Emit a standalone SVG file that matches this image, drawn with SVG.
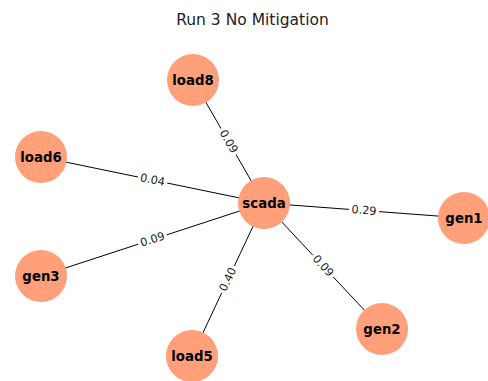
<svg xmlns="http://www.w3.org/2000/svg" width="488" height="381" viewBox="0 0 488 381">
  <style>
    .edge { stroke: #000; stroke-width: 1; }
    .node circle { fill: #FFA07A; }
    .node text { font-family: "DejaVu Sans", sans-serif; font-weight: bold; font-size: 13.3px; fill: #000; text-anchor: middle; dominant-baseline: central; }
    .elabel rect { fill: #fff; }
    .elabel text { font-family: "DejaVu Sans", sans-serif; font-size: 11.2px; fill: #222; text-anchor: middle; dominant-baseline: central; }
    .title { font-family: "DejaVu Sans", sans-serif; font-size: 15.5px; fill: #222; text-anchor: middle; }
  </style>
  <rect width="488" height="381" fill="#fff"/>
  <text class="title" x="252.5" y="25">Run 3 No Mitigation</text>

  <g id="connectors">
    <line class="edge" x1="264" y1="203" x2="193" y2="80"/>
    <line class="edge" x1="264" y1="203" x2="41" y2="157"/>
    <line class="edge" x1="264" y1="203" x2="41" y2="276"/>
    <line class="edge" x1="264" y1="203" x2="192" y2="356"/>
    <line class="edge" x1="264" y1="203" x2="382" y2="329"/>
    <line class="edge" x1="264" y1="203" x2="464" y2="218"/>

    <g class="elabel" transform="translate(228.5,141.5) rotate(60)"><rect x="-15" y="-6.5" width="30" height="13"/><text>0.09</text></g>
    <g class="elabel" transform="translate(152.5,180) rotate(11.7)"><rect x="-15" y="-6.5" width="30" height="13"/><text>0.04</text></g>
    <g class="elabel" transform="translate(152.5,239.5) rotate(-18.1)"><rect x="-15" y="-6.5" width="30" height="13"/><text>0.09</text></g>
    <g class="elabel" transform="translate(228,279.5) rotate(-64.8)"><rect x="-15" y="-6.5" width="30" height="13"/><text>0.40</text></g>
    <g class="elabel" transform="translate(323,266) rotate(46.9)"><rect x="-15" y="-6.5" width="30" height="13"/><text>0.09</text></g>
    <g class="elabel" transform="translate(364,210.5) rotate(4.3)"><rect x="-15" y="-6.5" width="30" height="13"/><text>0.29</text></g>
  </g>

  <g id="scada" class="node"><circle cx="264" cy="203" r="26"/><text x="264" y="203">scada</text></g>
  <g id="load8" class="node"><circle cx="193" cy="80" r="26"/><text x="193" y="80">load8</text></g>
  <g id="load6" class="node"><circle cx="41" cy="157" r="26"/><text x="41" y="157">load6</text></g>
  <g id="gen3" class="node"><circle cx="41" cy="276" r="26"/><text x="41" y="276">gen3</text></g>
  <g id="load5" class="node"><circle cx="192" cy="356" r="26"/><text x="192" y="356">load5</text></g>
  <g id="gen2" class="node"><circle cx="382" cy="329" r="26"/><text x="382" y="329">gen2</text></g>
  <g id="gen1" class="node"><circle cx="464" cy="218" r="26"/><text x="464" y="218">gen1</text></g>
</svg>
